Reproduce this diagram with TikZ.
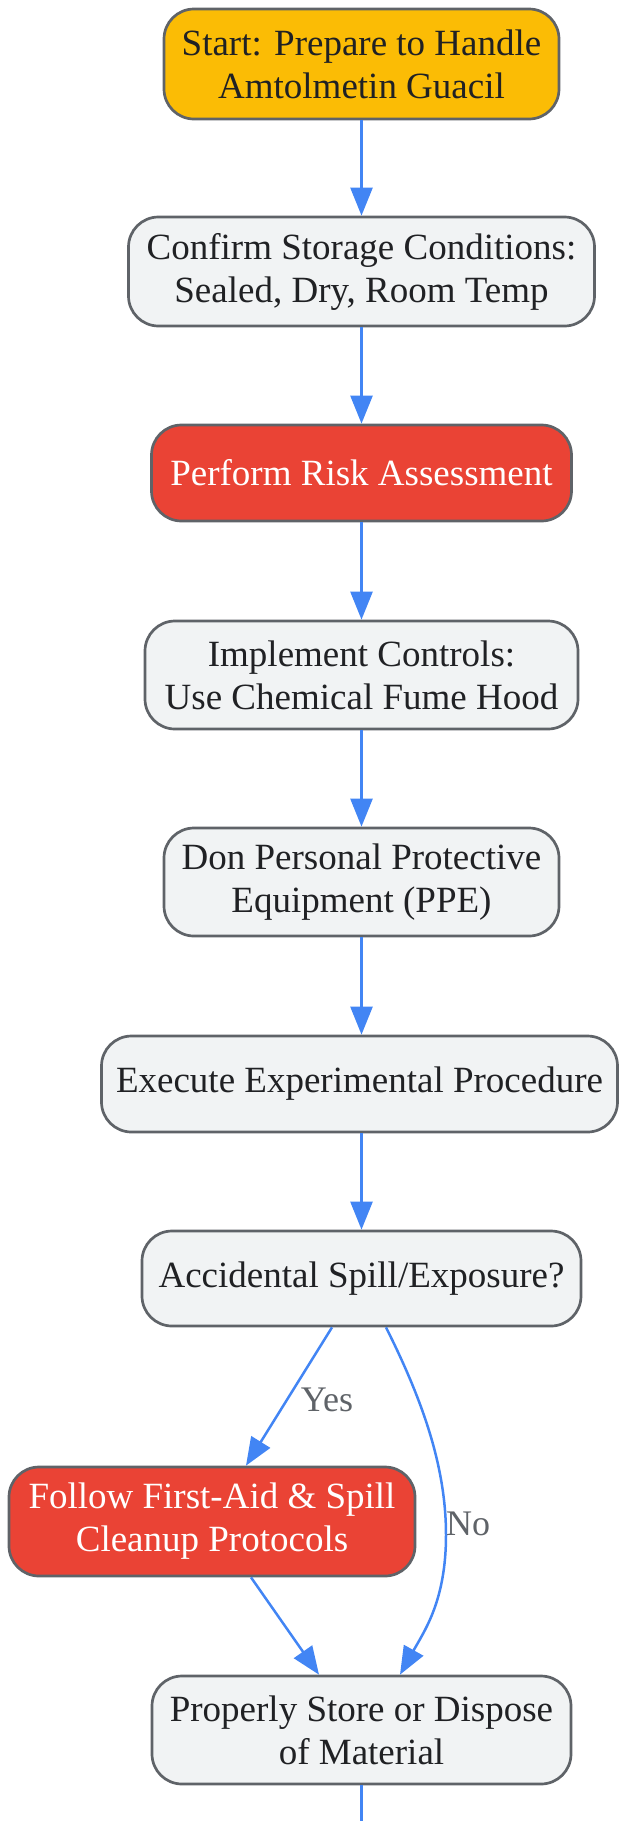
\documentclass[tikz,border=0pt]{standalone}
\usepackage{fontspec}
\setmainfont{Liberation Serif}
\usetikzlibrary{arrows.meta}
\definecolor{cyel}{HTML}{FBBC05}
\definecolor{cred}{HTML}{EA4335}
\definecolor{cgray}{HTML}{F1F3F4}
\definecolor{cedge}{HTML}{5F6368}
\definecolor{cblue}{HTML}{4285F4}
\definecolor{ctext}{HTML}{202124}
\begin{document}
\begin{tikzpicture}[x=1pt,y=-1pt,
  box/.style={draw=cedge, line width=2.7pt, rounded corners=30pt, inner sep=0pt,
    align=center, font=\fontsize{37}{43}\selectfont, text=ctext, fill=cgray},
  redbox/.style={box, fill=cred, text=white},
  yelbox/.style={box, fill=cyel},
  conn/.style={draw=cblue, line width=2.5pt, -{Triangle[length=28pt,width=22pt]}},
  lbl/.style={font=\fontsize{36}{40}\selectfont, text=cedge, inner sep=0pt}
]
\useasboundingbox (0,0) rectangle (619,1821);
\node[yelbox, minimum width=395pt, minimum height=110pt] (n1) at (361.5,64) {Start: Prepare to Handle\\Amtolmetin Guacil};
\node[box, minimum width=466pt, minimum height=109pt] (n2) at (361.5,271.5) {Confirm Storage Conditions:\\Sealed, Dry, Room Temp};
\node[redbox, minimum width=420pt, minimum height=96pt] (n3) at (361.5,473) {Perform Risk Assessment};
\node[box, minimum width=433pt, minimum height=108pt] (n4) at (361.5,675) {Implement Controls:\\Use Chemical Fume Hood};
\node[box, minimum width=395pt, minimum height=108pt] (n5) at (361.5,882) {Don Personal Protective\\Equipment (PPE)};
\node[box, minimum width=516pt, minimum height=96pt] (n6) at (359.5,1084) {Execute Experimental Procedure};
\node[box, minimum width=439pt, minimum height=95pt] (n7) at (361.5,1278.5) {Accidental Spill/Exposure?};
\node[redbox, minimum width=406pt, minimum height=109pt] (n8) at (212,1521.5) {Follow First-Aid \& Spill\\Cleanup Protocols};
\node[box, minimum width=419pt, minimum height=108pt] (n9) at (361.5,1730) {Properly Store or Dispose\\of Material};
\coordinate (endpt) at (361.5,1821);

\draw[conn] (n1.south) -- (n2.north);
\draw[conn] (n2.south) -- (n3.north);
\draw[conn] (n3.south) -- (n4.north);
\draw[conn] (n4.south) -- (n5.north);
\draw[conn] (n5.south) -- (n6.north -| n5.south);
\draw[conn] (n6.south -| n7.north) -- (n7.north);
\draw[conn] ([xshift=-29.5pt]n7.south) -- ([xshift=34pt]n8.north);
\node[lbl] (yeslbl) at (327,1400) {Yes};
\draw[conn] ([xshift=24.5pt]n7.south) .. controls (425,1405) and (446,1470) .. (446,1535)
   .. controls (446,1600) and (425,1630) .. ([xshift=38.5pt]n9.north);
\node[lbl, anchor=west] (nolbl) at (446,1524) {No};
\draw[conn] ([xshift=39pt]n8.south) -- ([xshift=-42.5pt]n9.north);
\draw[draw=cblue, line width=2.5pt] (n9.south) -- (endpt);
\end{tikzpicture}
\end{document}
